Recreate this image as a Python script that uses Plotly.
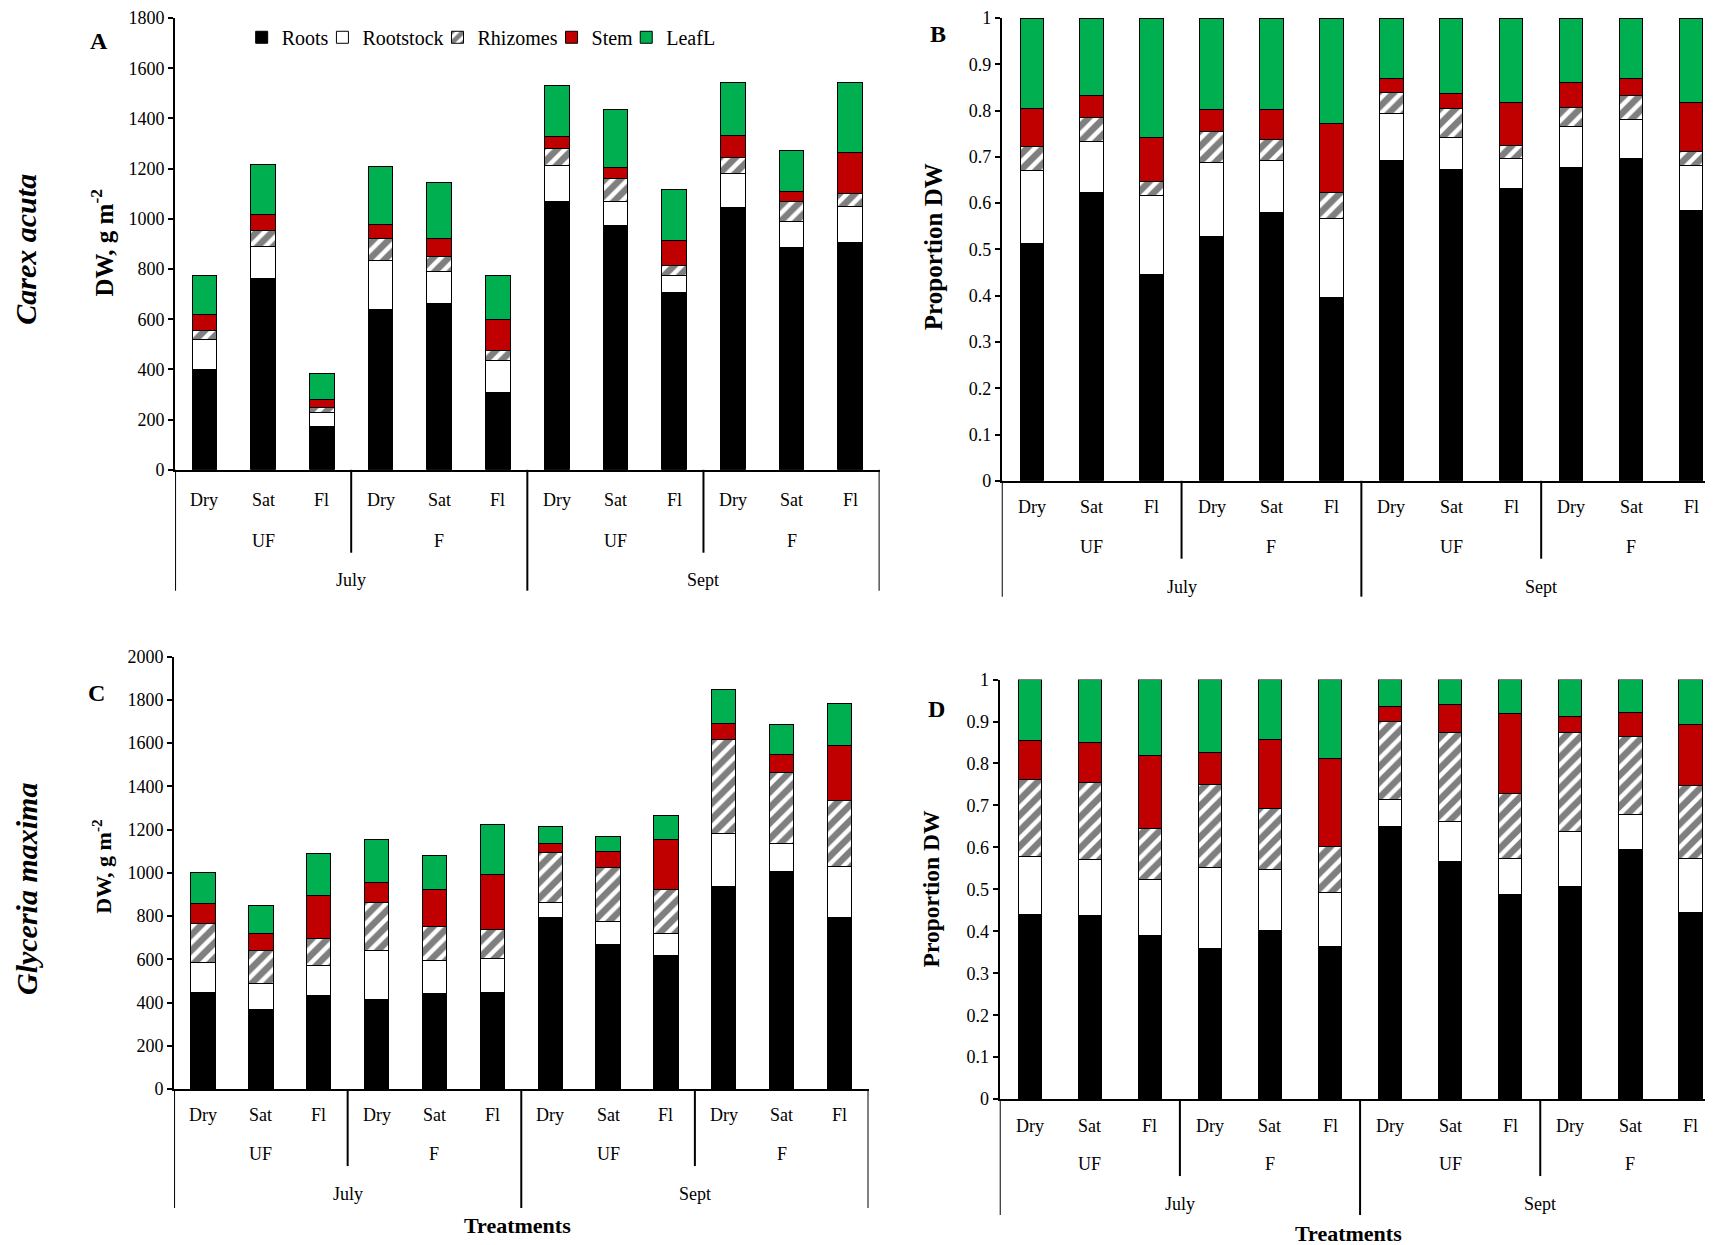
import plotly.graph_objects as go

W, H = 1713, 1245

# categories
treatments = ["Dry", "Sat", "Fl"] * 4
fert_groups = ["UF", "F", "UF", "F"]
months = ["July", "Sept"]
components = ["Roots", "Rootstock", "Rhizomes", "Stem", "LeafL"]

# A - Carex acuta, DW g m-2 (segment heights)
carex_roots = [400, 764, 171, 640, 664, 310, 1067, 973, 707, 1044, 885, 905]
carex_rootstock = [119, 127, 56, 192, 126, 126, 145, 94, 69, 135, 106, 146]
carex_rhizomes = [36, 62, 23, 88, 60, 41, 69, 93, 36, 66, 76, 49]
carex_stem = [62, 65, 30, 56, 73, 121, 47, 46, 103, 85, 42, 163]
carex_leaf = [159, 197, 103, 234, 222, 178, 203, 231, 202, 213, 162, 280]

# B - Carex acuta, proportion DW
carex_p_roots = [.513, .623, .446, .527, .579, .397, .693, .673, .631, .676, .696, .584]
carex_p_rootstock = [.157, .110, .171, .161, .114, .170, .101, .069, .066, .090, .084, .098]
carex_p_rhizomes = [.053, .053, .030, .067, .044, .056, .045, .062, .028, .041, .053, .029]
carex_p_stem = [.081, .047, .095, .047, .065, .149, .030, .033, .092, .054, .037, .106]
carex_p_leaf = [.196, .167, .258, .198, .198, .228, .131, .163, .183, .139, .130, .183]

# C - Glyceria maxima, DW g m-2
glyc_roots = [447, 370, 435, 416, 440, 447, 792, 668, 619, 936, 1006, 792]
glyc_rootstock = [140, 120, 138, 227, 155, 157, 72, 107, 101, 248, 132, 236]
glyc_rhizomes = [179, 151, 125, 219, 156, 134, 230, 249, 204, 433, 328, 305]
glyc_stem = [92, 79, 197, 92, 170, 255, 40, 77, 229, 74, 83, 256]
glyc_leaf = [144, 129, 193, 199, 158, 230, 80, 65, 110, 158, 138, 194]

# D - Glyceria maxima, proportion DW
glyc_p_roots = [.441, .437, .390, .360, .403, .363, .649, .567, .488, .507, .595, .444]
glyc_p_rootstock = [.138, .135, .134, .193, .145, .130, .065, .095, .085, .131, .083, .130]
glyc_p_rhizomes = [.182, .183, .121, .196, .145, .110, .186, .211, .155, .235, .187, .173]
glyc_p_stem = [.093, .096, .175, .078, .163, .210, .037, .068, .190, .040, .057, .145]
glyc_p_leaf = [.146, .149, .180, .173, .144, .187, .063, .059, .082, .087, .078, .108]

SERIF = "Liberation Serif"

styles = {
    "Roots": dict(color="black"),
    "Rootstock": dict(color="white"),
    "Rhizomes": dict(color="white", pattern=dict(shape="/", fgcolor="black", bgcolor="white",
                                                 size=11, solidity=0.6)),
    "Stem": dict(color="#C00000"),
    "LeafL": dict(color="#00B050"),
}

# the photographed page comes out a bit shifted/squeezed, so target
# screen pixels are mapped back to figure pixels here
XA, XB = 0.9907, 8.5
YA, YB = 0.985, 16.7


def clip(v):
    return min(max(v, 0.0), 1.0)


def px(p, clamp=False):
    v = (p - XB) / XA / W
    return clip(v) if clamp else v


def py(p, clamp=False):
    v = 1 - (p - YB) / YA / H
    return clip(v) if clamp else v


# screen layout of each panel: left, right, zero line, top, label rows, divider ends
panels = [
    dict(key="1", letter="A", left=174, right=872, zero=469, top=13, ymax=1800, dtick=200,
         rows=(499, 540, 579), inner=552, outer=590, bw=0.42, lpos=(99, 40),
         title="DW, g m<sup>-2</sup>", tsize=25, tpos=(102, 242),
         data=[carex_roots, carex_rootstock, carex_rhizomes, carex_stem, carex_leaf]),
    dict(key="2", letter="B", left=993, right=1706, zero=480, top=10, ymax=1, dtick=0.1,
         rows=(506, 546, 586), inner=558, outer=596, bw=0.39, lpos=(930, 33),
         title="Proportion DW", tsize=25, tpos=(925, 246),
         data=[carex_p_roots, carex_p_rootstock, carex_p_rhizomes, carex_p_stem, carex_p_leaf]),
    dict(key="3", letter="C", left=173, right=861, zero=1089, top=656, ymax=2000, dtick=200,
         rows=(1115, 1154, 1194), inner=1166, outer=1208, bw=0.42, lpos=(96, 692),
         title="DW, g m<sup>-2</sup>", tsize=22, tpos=(102, 866), treat=(513, 1226),
         data=[glyc_roots, glyc_rootstock, glyc_rhizomes, glyc_stem, glyc_leaf]),
    dict(key="4", letter="D", left=991, right=1705, zero=1099, top=679, ymax=1, dtick=0.1,
         rows=(1126, 1164, 1204), inner=1176, outer=1215, bw=0.39, lpos=(928, 708),
         title="Proportion DW", tsize=23.5, tpos=(923, 889), treat=(1337, 1234),
         data=[glyc_p_roots, glyc_p_rootstock, glyc_p_rhizomes, glyc_p_stem, glyc_p_leaf]),
]

# legend text starts (screen px) along the top of panel A
legend_text_x = [282, 362, 476, 589, 663]
legend_y = 36

fig = go.Figure()
xpos = list(range(len(treatments)))
annotations = []
shapes = []
axis_font = dict(family=SERIF, size=18, color="black")

for i, p in enumerate(panels):
    xa = "x" if p["key"] == "1" else "x" + p["key"]
    ya = "y" if p["key"] == "1" else "y" + p["key"]
    for j, (name, vals) in enumerate(zip(components, p["data"])):
        fig.add_trace(go.Bar(
            x=xpos, y=vals, name=name, xaxis=xa, yaxis=ya,
            width=p["bw"], marker=dict(line=dict(color="black", width=1), **styles[name]),
            showlegend=(i == 0), legend="legend" if j == 0 else "legend%d" % (j + 1),
        ))

    fig.update_layout({
        ("xaxis" if p["key"] == "1" else "xaxis" + p["key"]): dict(
            domain=[px(p["left"], True), px(p["right"], True)], anchor=ya,
            range=[-0.5, len(treatments) - 0.5], showticklabels=False, ticks="",
            showline=True, linecolor="black", linewidth=2, showgrid=False, zeroline=False),
        ("yaxis" if p["key"] == "1" else "yaxis" + p["key"]): dict(
            domain=[py(p["zero"], True), py(p["top"], True)], anchor=xa,
            range=[0, p["ymax"]], dtick=p["dtick"], ticks="outside", ticklen=5,
            tickcolor="black", tickwidth=1.5, showline=True, linecolor="black", linewidth=2,
            showgrid=False, zeroline=False, tickfont=axis_font),
    })

    xref = xa
    # level 1: water treatment
    for x, t in zip(xpos, treatments):
        annotations.append(dict(x=x, y=py(p["rows"][0]), xref=xref, yref="paper", text=t,
                                showarrow=False, font=axis_font, xanchor="center",
                                yanchor="middle"))
    # level 2: fertilisation
    for g, lab in enumerate(fert_groups):
        annotations.append(dict(x=g * 3 + 1, y=py(p["rows"][1]), xref=xref, yref="paper",
                                text=lab, showarrow=False, font=axis_font, xanchor="center",
                                yanchor="middle"))
    # level 3: month
    for m, lab in enumerate(months):
        annotations.append(dict(x=m * 6 + 2.5, y=py(p["rows"][2]), xref=xref, yref="paper",
                                text=lab, showarrow=False, font=axis_font, xanchor="center",
                                yanchor="middle"))
    # dividers of the category table
    for xd in [2.5, 8.5]:
        shapes.append(dict(type="line", xref=xref, yref="paper", x0=xd, x1=xd,
                           y0=py(p["zero"]), y1=py(p["inner"]), line=dict(color="black", width=2)))
    for xd in [-0.5, 5.5, 11.5]:
        shapes.append(dict(type="line", xref=xref, yref="paper", x0=xd, x1=xd,
                           y0=py(p["zero"]), y1=py(p["outer"]), line=dict(color="black", width=2)))

    # panel letter
    annotations.append(dict(x=px(p["lpos"][0]), y=py(p["lpos"][1]), xref="paper", yref="paper",
                            text="<b>%s</b>" % p["letter"], showarrow=False,
                            xanchor="center", yanchor="middle",
                            font=dict(family=SERIF, size=24, color="black")))
    # y title
    annotations.append(dict(x=px(p["tpos"][0]), y=py(p["tpos"][1]), xref="paper", yref="paper",
                            text="<b>%s</b>" % p["title"], showarrow=False, textangle=-90,
                            xanchor="center", yanchor="middle",
                            font=dict(family=SERIF, size=p["tsize"], color="black")))
    if "treat" in p:
        annotations.append(dict(x=px(p["treat"][0]), y=py(p["treat"][1]), xref="paper",
                                yref="paper", text="<b>Treatments</b>", showarrow=False,
                                xanchor="center", yanchor="middle",
                                font=dict(family=SERIF, size=22, color="black")))

# species names on the left
for name, xc, yc, fs in [("Carex acuta", 25, 248, 30), ("Glyceria maxima", 27, 889, 30)]:
    annotations.append(dict(x=px(xc), y=py(yc), xref="paper", yref="paper",
                            text="<b><i>%s</i></b>" % name, showarrow=False, textangle=-90,
                            xanchor="center", yanchor="middle",
                            font=dict(family=SERIF, size=fs, color="black")))

legends = {}
for j, tx in enumerate(legend_text_x):
    key = "legend" if j == 0 else "legend%d" % (j + 1)
    legends[key] = dict(x=px(tx - 42), y=py(legend_y), xanchor="left", yanchor="middle",
                        orientation="h", font=dict(family=SERIF, size=20, color="black"),
                        bgcolor="rgba(0,0,0,0)", itemwidth=30)

fig.update_layout(
    width=W, height=H, barmode="stack",
    margin=dict(l=0, r=0, t=0, b=0),
    paper_bgcolor="white", plot_bgcolor="white",
    font=dict(family=SERIF, color="black"),
    annotations=annotations, shapes=shapes,
    **legends,
)

fig.write_html("out.html")
